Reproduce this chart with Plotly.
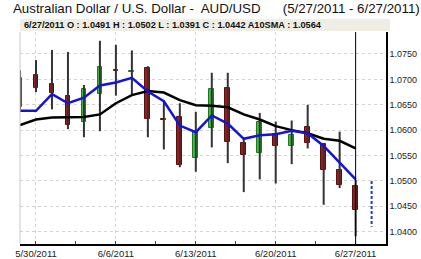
import plotly.graph_objects as go

dates = ["5/27/2011", "5/30/2011", "5/31/2011", "6/1/2011", "6/2/2011", "6/3/2011",
         "6/6/2011", "6/7/2011", "6/8/2011", "6/9/2011", "6/10/2011",
         "6/13/2011", "6/14/2011", "6/15/2011", "6/16/2011", "6/17/2011",
         "6/20/2011", "6/21/2011", "6/22/2011", "6/23/2011", "6/24/2011", "6/27/2011"]
opens  = [1.0646, 1.0709, 1.0690, 1.0668, 1.0616, 1.0671, 1.0718, 1.0714, 1.0723, 1.0622, 1.0625,
          1.0545, 1.0604, 1.0684, 1.0575, 1.0556, 1.0592, 1.0568, 1.0606, 1.0573, 1.0522, 1.0491]
highs  = [1.0718, 1.0738, 1.0758, 1.0754, 1.0689, 1.0776, 1.0768, 1.0757, 1.0726, 1.0658, 1.0653,
          1.0636, 1.0713, 1.0713, 1.0586, 1.0634, 1.0617, 1.0619, 1.0650, 1.0575, 1.0597, 1.0502]
lows   = [1.0640, 1.0675, 1.0641, 1.0602, 1.0586, 1.0598, 1.0668, 1.0671, 1.0586, 1.0562, 1.0527,
          1.0518, 1.0566, 1.0535, 1.0478, 1.0503, 1.0495, 1.0533, 1.0564, 1.0453, 1.0486, 1.0391]
closes = [1.0702, 1.0684, 1.0673, 1.0610, 1.0682, 1.0724, 1.0716, 1.0716, 1.0621, 1.0620, 1.0531,
          1.0597, 1.0682, 1.0577, 1.0551, 1.0617, 1.0568, 1.0590, 1.0574, 1.0522, 1.0492, 1.0442]
sma_blue  = [1.0638, 1.0638, 1.0671, 1.0653, 1.0664, 1.0688, 1.0694, 1.0703, 1.0676, 1.0657, 1.0609,
             1.0596, 1.0629, 1.0613, 1.0583, 1.0590, 1.0592, 1.0599, 1.0594, 1.0569, 1.0536, 1.0503]
sma_black = [1.0610, 1.0621, 1.0625, 1.0625, 1.0626, 1.0631, 1.0653, 1.0669, 1.0677, 1.0674, 1.0659,
             1.0649, 1.0648, 1.0645, 1.0631, 1.0621, 1.0608, 1.0600, 1.0594, 1.0583, 1.0579, 1.0564]
proj_date = "6/28/2011"
proj_range = [1.0500, 1.0410]
tick_labels = ["5/30/2011", "6/6/2011", "6/13/2011", "6/20/2011", "6/27/2011"]
y_ticks = [1.0400, 1.0450, 1.0500, 1.0550, 1.0600, 1.0650, 1.0700, 1.0750]
title_text = "Australian Dollar / U.S. Dollar -  AUD/USD      (5/27/2011 - 6/27/2011)"
info_text = "6/27/2011 O : 1.0491 H : 1.0502 L : 1.0391 C : 1.0442 A10SMA : 1.0564"

all_dates = dates + [proj_date]
xi = list(range(len(dates)))
px = len(dates)

fig = go.Figure()

# wicks
wx, wy = [], []
for i in xi:
    wx += [i, i, None]
    wy += [lows[i], highs[i], None]
fig.add_trace(go.Scatter(x=wx, y=wy, mode="lines", line=dict(color="#333333", width=2),
                         hoverinfo="skip", showlegend=False))

# bodies
for up, fill, edge in [(True, "#3cc43c", "#1c7a1c"), (False, "#a01c1c", "#5e0c0c")]:
    idx = [i for i in xi if (closes[i] >= opens[i]) == up]
    fig.add_trace(go.Bar(
        x=idx,
        base=[min(opens[i], closes[i]) for i in idx],
        y=[max(abs(closes[i] - opens[i]), 0.00012) for i in idx],
        width=0.3, marker=dict(color=fill, line=dict(color=edge, width=1)),
        showlegend=False))

fig.add_trace(go.Scatter(x=xi, y=sma_black, mode="lines", line=dict(color="black", width=2.5),
                         showlegend=False))
fig.add_trace(go.Scatter(x=xi, y=sma_blue, mode="lines", line=dict(color="#1414d8", width=2.5),
                         showlegend=False))
fig.add_trace(go.Scatter(x=[px, px], y=proj_range, mode="lines",
                         line=dict(color="#1f3fbf", width=2, dash="3px,2px"), showlegend=False))

# crosshair at last date
fig.add_shape(type="line", xref="x", yref="paper", x0=xi[-1], x1=xi[-1], y0=0, y1=1,
              line=dict(color="black", width=1))

# info box
fig.add_shape(type="rect", xref="paper", yref="paper", x0=0, x1=1.011, y0=1.005, y1=1.061,
              fillcolor="#efede4", line=dict(width=0), layer="above")
fig.add_annotation(text="<b>" + info_text + "</b>", xref="paper", yref="paper", x=0.005, y=1.033,
                   xanchor="left", yanchor="middle", showarrow=False,
                   font=dict(family="Liberation Sans, Arial", size=9.2, color="#111111"))
fig.add_annotation(text=title_text, xref="paper", yref="paper", x=0.537, y=1.113,
                   xanchor="center", yanchor="middle", showarrow=False,
                   font=dict(family="Liberation Sans, Arial", size=13.3, color="#111111"))

tickvals = [all_dates.index(t) for t in tick_labels]
minor_vals = [v - 2.5 for v in tickvals] + [tickvals[-1] + 2.5]

fig.update_layout(
    width=421, height=259, margin=dict(l=19.5, r=35, t=32, b=15, autoexpand=False),
    paper_bgcolor="white", plot_bgcolor="white", bargap=0, barmode="overlay",
    font=dict(family="Liberation Sans, Arial", size=9.5, color="#222222"),
    xaxis=dict(range=[0, 22.9], tickvals=tickvals, ticktext=tick_labels, automargin=False,
               showgrid=True, gridcolor="#d4d4d4", griddash="dot", gridwidth=1,
               ticks="inside", ticklen=3, tickcolor="#444", zeroline=False,
               showline=True, linecolor="black", linewidth=1.5, mirror=False,
               minor=dict(tickvals=minor_vals, ticks="inside", ticklen=3, tickcolor="#444", showgrid=False),
               fixedrange=True),
    yaxis=dict(range=[1.03758, 1.07933], side="right", tickvals=y_ticks, automargin=False,
               tickformat=".4f", showgrid=True, gridcolor="#d4d4d4", griddash="dot",
               tickfont=dict(size=9),
               zeroline=False, showline=True, linecolor="black", linewidth=1.5,
               ticks="", ticklabelstandoff=0, fixedrange=True),
)
# left border (light gray)
fig.add_shape(type="line", xref="paper", yref="paper", x0=0, x1=0, y0=0, y1=1,
              line=dict(color="#c8c8c8", width=1))

fig.write_html("out.html")
